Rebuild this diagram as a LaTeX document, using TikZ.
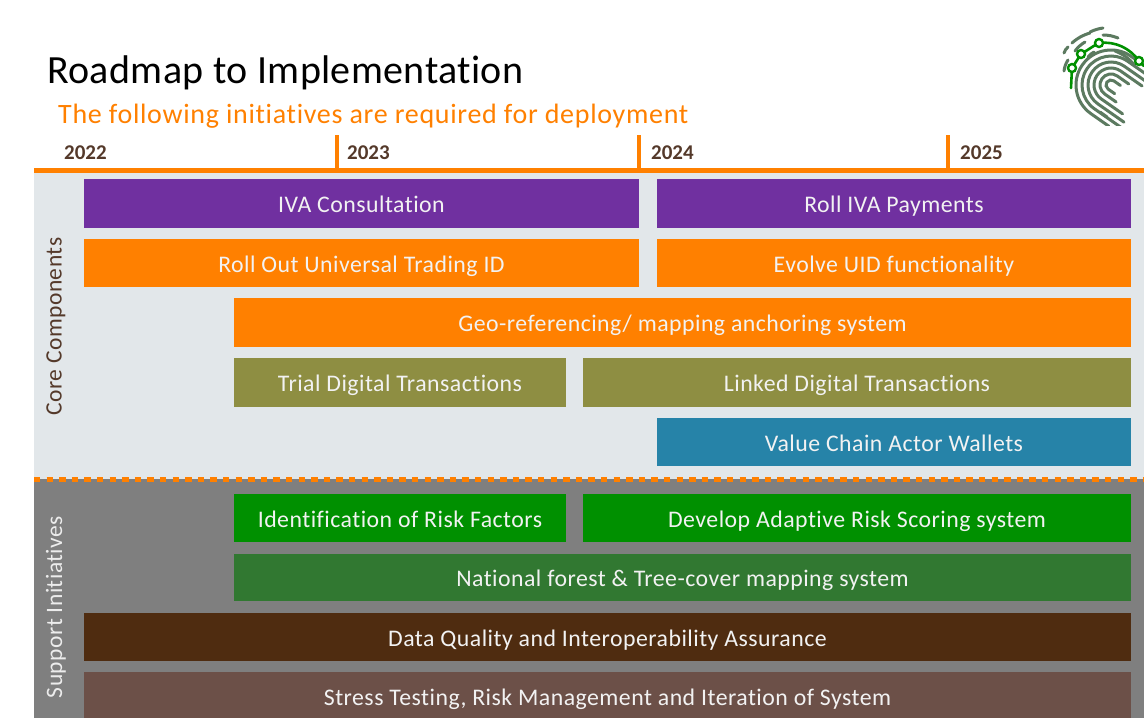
\documentclass[tikz,border=0pt]{standalone}
\usepackage{fontspec}
\setmainfont{Carlito}[Ligatures=NoCommon]
\usetikzlibrary{positioning}
\definecolor{roadorange}{HTML}{FF8000}
\definecolor{roadpurple}{HTML}{7030A0}
\definecolor{roadolive}{HTML}{8E8E42}
\definecolor{roadblue}{HTML}{2683A8}
\definecolor{roadgreen}{HTML}{009000}
\definecolor{roadforest}{HTML}{317831}
\definecolor{roadbrown}{HTML}{4F2C10}
\definecolor{roadtaupe}{HTML}{6C5048}
\definecolor{roadpanel}{HTML}{E2E7EA}
\definecolor{roadgray}{HTML}{7F7F7F}
\definecolor{roadyear}{HTML}{54392A}
\definecolor{printgreen}{HTML}{5C7A60}
\tikzset{
	bar/.style={minimum height=#1, inner sep=0pt, text height=20, text depth=2, text=white!90!gray, font=\fontsize{23.8}{26}\selectfont\addfontfeature{LetterSpace=2}},
	bar/.default=48.5,
	year/.style={anchor=west, inner sep=0pt, text=roadyear, font=\fontsize{21}{24}\selectfont\bfseries},
	tick/.style={roadorange, line width=4},
	side/.style={rotate=90, inner sep=0pt, font=\fontsize{23.5}{26}\selectfont\addfontfeature{LetterSpace=2}},
	ridge/.style={printgreen, line width=3, line cap=round},
	joint/.style={circle, draw=roadgreen, fill=white, line width=2.4, minimum size=8, inner sep=0pt}
}
\begin{document}
\begin{tikzpicture}[x=1pt, y=-1pt]
	\useasboundingbox (0,0) rectangle (1144,718);
	
	% Paineis de fundo
	\fill[roadpanel] (34,172) rectangle (1144,479);
	\fill[roadgray] (34,479) rectangle (1144,718);
	\draw[roadorange, line width=5, dash pattern=on 6.3 off 6.3] (34,479) -- (1144,479);
	
	% Titulos
	\node[anchor=west, inner sep=0pt, font=\fontsize{40}{44}\selectfont\addfontfeature{LetterSpace=1}] (title) at (47,72.5) {Roadmap to Implementation};
	\node[anchor=west, inner sep=0pt, text=roadorange, font=\fontsize{28}{30}\selectfont\addfontfeature{LetterSpace=2.5}] (subtitle) at (58,116) {The following initiatives are required for deployment};
	
	% Linha do tempo
	\draw[roadorange, line width=5] (34,170) -- (1144,170);
	\draw[tick] (336.5,135) -- (336.5,168);
	\draw[tick] (638.5,135) -- (638.5,168);
	\draw[tick] (947.5,135) -- (947.5,168);
	\node[year] (y2022) at (64,153) {2022};
	\node[year] (y2023) at (347,153) {2023};
	\node[year] (y2024) at (651,153) {2024};
	\node[year] (y2025) at (960,153) {2025};
	
	% Componentes centrais
	\node[side, text=roadyear] (core) at (56,326.5) {Core Components};
	\node[bar, fill=roadpurple, minimum width=555] (iva) at (361.5,203.5) {IVA Consultation};
	\node[bar, fill=roadpurple, minimum width=474] (payments) at (894,203.5) {Roll IVA Payments};
	\node[bar, fill=roadorange, minimum width=555] (uid) at (361.5,263) {Roll Out Universal Trading ID};
	\node[bar, fill=roadorange, minimum width=474] (evolve) at (894,263) {Evolve UID functionality};
	\node[bar, fill=roadorange, minimum width=897] (geo) at (682.5,322.5) {Geo-referencing/ mapping anchoring system};
	\node[bar, fill=roadolive, minimum width=332] (trial) at (400,382.5) {Trial Digital Transactions};
	\node[bar, fill=roadolive, minimum width=548] (linked) at (857,382.5) {Linked Digital Transactions};
	\node[bar, fill=roadblue, minimum width=474] (wallets) at (894,442) {Value Chain Actor Wallets};
	
	% Iniciativas de suporte
	\node[side, text=white!85!gray] (support) at (56,607) {Support Initiatives};
	\node[bar, fill=roadgreen, minimum width=332] (risk) at (400,518) {Identification of Risk Factors};
	\node[bar, fill=roadgreen, minimum width=548] (scoring) at (857,518) {Develop Adaptive Risk Scoring system};
	\node[bar=47, fill=roadforest, minimum width=897] (forest) at (682.5,577.5) {National forest \& Tree-cover mapping system};
	\node[bar, fill=roadbrown, minimum width=1047] (quality) at (607.5,637) {Data Quality and Interoperability Assurance};
	\node[bar, fill=roadtaupe, minimum width=1047] (stress) at (607.5,696) {Stress Testing, Risk Management and Iteration of System};
	
	% Impressao digital
	\begin{scope}
		\clip (1050,20) rectangle (1144,125);
		% Cristas externas
		\draw[ridge] (1064,53) to[bend left=15] (1068,47);
		\draw[ridge] (1072,43) to[bend left=12] (1090,33);
		\draw[ridge] (1090,32) to[bend left=8] (1103,28);
		\draw[ridge] (1075,51) to[bend left=10] (1085,42);
		\draw[ridge] (1103,35) to[bend left=10] (1118,38);
		\draw[ridge] (1115,51) to[bend left=15] (1135,66);
		\draw[ridge] (1064,71) to[bend left=12] (1068,60);
		\draw[ridge] (1088,57) to[bend left=10] (1094,52);
		\draw[ridge] (1100,112) -- (1107,117);
		% Cristas em laco
		\begin{scope}[shift={(1111,85)}, rotate=-35]
			\foreach \r/\l in {5/8,11/14,17/26,23/32,29/34,35/22}
				\draw[ridge] (\l,\r) -- (0,\r) arc[start angle=90, end angle=270, radius=\r] -- (\l,-\r);
		\end{scope}
		% Circuito verde
		\draw[roadgreen, line width=2.6, line cap=round] (1071,88) -- (1072,68) -- (1081,54) .. controls (1088,50) and (1093,46) .. (1099,43) .. controls (1115,41) and (1130,48) .. (1139,61) -- (1144,66);
		\node[joint] (n1) at (1072,68) {};
		\node[joint] (n2) at (1081,54) {};
		\node[joint] (n3) at (1099,43) {};
		\node[joint] (n4) at (1139,61) {};
	\end{scope}
\end{tikzpicture}
\end{document}
